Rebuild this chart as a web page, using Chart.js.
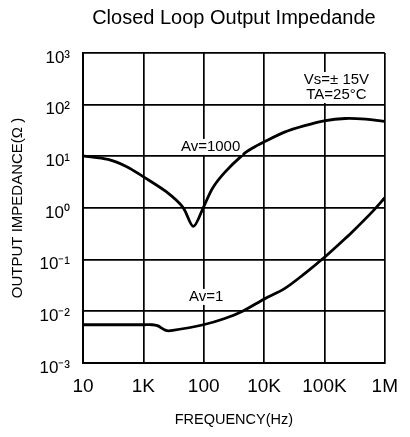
<!DOCTYPE html>
<html><head><meta charset="utf-8">
<script src="https://cdn.jsdelivr.net/npm/chart.js@4/dist/chart.umd.min.js"></script>
<style>html,body{margin:0;padding:0;background:#fff}#wrap{width:410px;height:437px;position:relative}</style>
</head><body><div id="wrap"><canvas id="c"></canvas></div>
<script>
const chartTitle = "Closed Loop Output Impedande";
const xAxisTitle = "FREQUENCY(Hz)";
const yAxisTitle = "OUTPUT IMPEDANCE(Ω )";
const xTickValues = [10, 100, 1000, 10000, 100000, 1000000];
const xTickLabels = ["10", "1K", "100", "10K", "100K", "1M"];
const yTickValues = [0.001, 0.01, 0.1, 1, 10, 100, 1000];
const yTickLabels = ["10⁻³", "10⁻²", "10⁻¹", "10⁰", "10¹", "10²", "10³"];

const av1000Freq = [10, 26, 53, 101, 236, 453, 672, 988, 1400, 2230, 4480, 6350, 10100, 21800, 47000, 98900, 221000, 482000, 1000000];
const av1000Z    = [10.2, 8.7, 6.3, 4.0, 2.09, 1.03, 0.44, 1.03, 2.42, 4.9, 10.8, 14.3, 19.1, 29.4, 39.3, 48.8, 54, 52.4, 47.4];

const av1Freq = [10, 53, 101, 140, 171, 236, 306, 988, 2230, 4480, 10100, 21800, 47000, 98900, 221000, 286000, 624000, 1000000];
const av1Z    = [0.0055, 0.0055, 0.0055, 0.0055, 0.00528, 0.00427, 0.00427, 0.0055, 0.00725, 0.0102, 0.0174, 0.0275, 0.0537, 0.110, 0.257, 0.339, 0.85, 1.58];

const noteTexts = ["Av=1000", "Av=1", "Vs=± 15V", "TA=25°C"];
const noteFreq  = [1300, 1094, 158000, 158000];
const noteZ     = [15.2, 0.019, 300, 154];

const FONT = "'Liberation Sans', Arial, sans-serif";

function toPoints(xs, ys) { return xs.map((x, i) => ({x: x, y: ys[i]})); }

const notesPlugin = {
  id: 'notes',
  afterDatasetsDraw(chart) {
    const ctx = chart.ctx;
    const xs = chart.scales.x, ys = chart.scales.y;
    ctx.save();
    ctx.font = "15px " + FONT;
    ctx.textAlign = 'center';
    ctx.textBaseline = 'middle';
    noteTexts.forEach((t, i) => {
      const px = xs.getPixelForValue(noteFreq[i]);
      const py = ys.getPixelForValue(noteZ[i]);
      const w = ctx.measureText(t).width;
      ctx.fillStyle = '#fff';
      ctx.fillRect(px - w / 2 - 2, py - 8, w + 4, 16);
    });
    noteTexts.forEach((t, i) => {
      const px = xs.getPixelForValue(noteFreq[i]);
      const py = ys.getPixelForValue(noteZ[i]);
      ctx.fillStyle = '#000';
      ctx.fillText(t, px, py);
    });
    ctx.restore();
  }
};

new Chart(document.getElementById('c'), {
  type: 'line',
  data: {
    datasets: [
      { label: 'Av=1000', data: toPoints(av1000Freq, av1000Z), borderColor: '#000', borderWidth: 2.8, pointRadius: 0, tension: 0.3, fill: false },
      { label: 'Av=1', data: toPoints(av1Freq, av1Z), borderColor: '#000', borderWidth: 2.8, pointRadius: 0, tension: 0.3, fill: false }
    ]
  },
  options: {
    responsive: true,
    maintainAspectRatio: false,
    animation: false,
    devicePixelRatio: 1,
    layout: { padding: { left: 0, right: 18, top: 0, bottom: 0 } },
    plugins: {
      legend: { display: false },
      tooltip: { enabled: false },
      title: {
        display: true, text: chartTitle, fullSize: false, color: '#000',
        font: { family: FONT, size: 20, weight: 'normal' },
        padding: { top: 6, bottom: 23 }
      }
    },
    scales: {
      x: {
        type: 'logarithmic', min: 10, max: 1000000,
        afterBuildTicks: s => { s.ticks = xTickValues.map(v => ({value: v})); },
        afterFit: s => { s.height = 74; },
        ticks: {
          color: '#000', padding: 12, maxRotation: 0, autoSkip: false,
          font: { family: FONT, size: 19 },
          callback: (v) => { const i = xTickValues.indexOf(v); return i >= 0 ? xTickLabels[i] : ''; }
        },
        grid: { color: '#000', lineWidth: 1.7, drawTicks: false },
        border: { color: '#000', width: 2 },
        title: { display: true, text: xAxisTitle, color: '#000', font: { family: FONT, size: 14.5 }, padding: { top: 6, bottom: 8 } }
      },
      y: {
        type: 'logarithmic', min: 0.001, max: 1000,
        afterBuildTicks: s => { s.ticks = yTickValues.map(v => ({value: v})); },
        afterFit: s => { s.width = 83; },
        ticks: {
          color: '#000', padding: 13, autoSkip: false, labelOffset: 5,
          font: { family: FONT, size: 17 },
          callback: (v) => { const i = yTickValues.indexOf(v); return i >= 0 ? yTickLabels[i] : ''; }
        },
        grid: { color: '#000', lineWidth: 1.7, drawTicks: false },
        border: { color: '#000', width: 2 },
        title: { display: true, text: yAxisTitle, color: '#000', font: { family: FONT, size: 15 }, padding: { top: 9, bottom: 4 } }
      }
    }
  },
  plugins: [notesPlugin]
});
</script>
</body></html>
